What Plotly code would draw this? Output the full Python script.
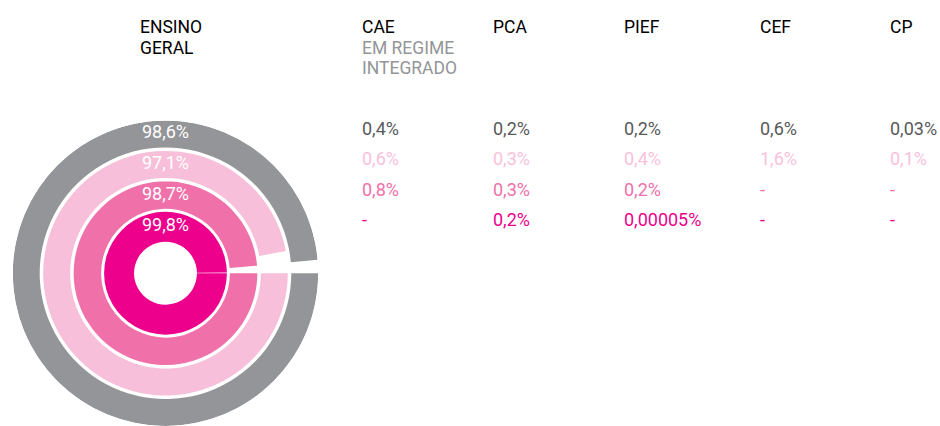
import plotly.graph_objects as go

# --- data ---
ring_labels = ["98,6%", "97,1%", "98,7%", "99,8%"]
ring_values = [98.6, 97.1, 98.7, 99.8]

main_header = ["ENSINO", "GERAL"]
col_headers = ["CAE", "PCA", "PIEF", "CEF", "CP"]
cae_subtitle = ["EM REGIME", "INTEGRADO"]

cae = ["0,4%", "0,6%", "0,8%", "-"]
pca = ["0,2%", "0,3%", "0,3%", "0,2%"]
pief = ["0,2%", "0,4%", "0,2%", "0,00005%"]
cef = ["0,6%", "1,6%", "-", "-"]
cp = ["0,03%", "0,1%", "-", "-"]

# --- styles / geometry ---
W, H = 940, 426
ring_colors = ["#939598", "#f7bfd9", "#f070a9", "#ec008c"]
row_colors = ["#58595b", "#f9c1db", "#f070a9", "#ec008c"]
cx, cy, R = 165.5, 273.5, 153
ring_inner = [126, 95.5, 64.5, 31.5]
ring_outer = [153, 122.5, 92, 61.5]
col_x = [360, 491, 622, 758, 888]
row_y = [128.5, 158.5, 189, 219.5]
head_y = [27, 47.5, 68]
FONT = "Roboto"


def px(x):
    return x / W


def py(y):
    return 1 - y / H


fig = go.Figure()

for val, col, r0, r1 in zip(ring_values, ring_colors, ring_inner, ring_outer):
    span = val * 3.6
    fig.add_trace(go.Barpolar(
        theta=[span / 2], width=[span], base=[r0], r=[r1 - r0],
        marker=dict(color=col, line=dict(width=0)),
        hoverinfo="skip", showlegend=False
    ))

# ring percentages, at the top of each ring
fig.add_trace(go.Scatterpolar(
    r=[(a + b) / 2 for a, b in zip(ring_inner, ring_outer)],
    theta=[270] * len(ring_labels),
    mode="text", text=ring_labels,
    textfont=dict(family=FONT, size=18, color="white"),
    hoverinfo="skip", showlegend=False
))

ann = []


def label(x, y, text, color, size):
    ann.append(dict(x=px(x), y=py(y), xref="paper", yref="paper",
                    xanchor="left", yanchor="middle", showarrow=False,
                    text=text, font=dict(family=FONT, size=size, color=color)))


for i, t in enumerate(main_header):
    label(138, head_y[i], t, "#000000", 17.5)
for j, t in enumerate(col_headers):
    label(col_x[j], head_y[0], t, "#000000", 17.5)
for i, t in enumerate(cae_subtitle):
    label(col_x[0], head_y[i + 1], t, "#939598", 17.5)

for j, column in enumerate([cae, pca, pief, cef, cp]):
    for i, v in enumerate(column):
        label(col_x[j], row_y[i], v, row_colors[i], 18)

fig.update_layout(
    width=W, height=H,
    margin=dict(l=0, r=0, t=0, b=0),
    paper_bgcolor="white", plot_bgcolor="white",
    annotations=ann,
    polar=dict(
        domain=dict(x=[px(cx - R), px(cx + R)], y=[0, py(cy - R)]),
        bgcolor="rgba(0,0,0,0)",
        radialaxis=dict(range=[0, R], visible=False),
        angularaxis=dict(direction="clockwise", rotation=0, visible=False),
        barmode="overlay",
    ),
)

fig.write_html("out.html", config={"displayModeBar": False},
               post_script="document.body.style.margin='0';")
